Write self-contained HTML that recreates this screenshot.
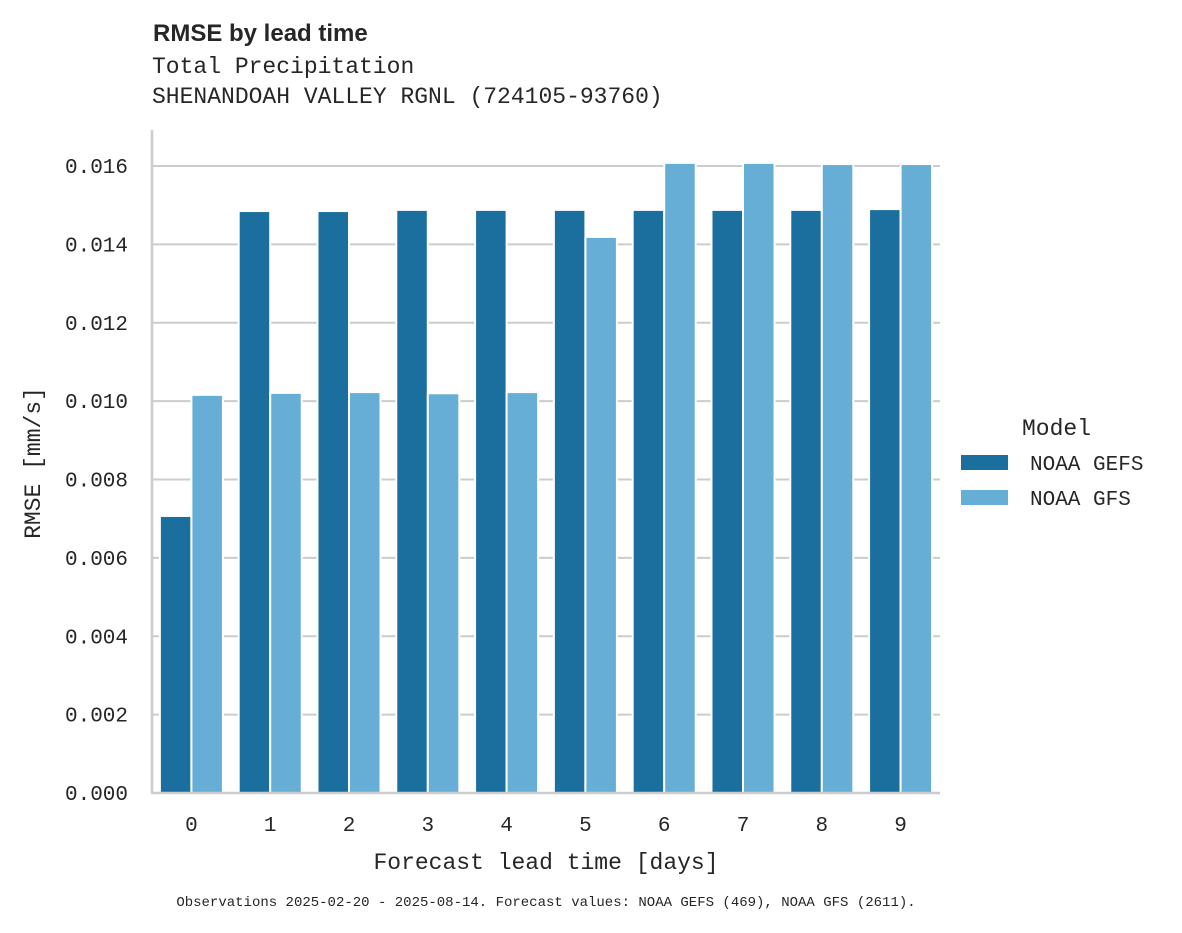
<!DOCTYPE html>
<html><head><meta charset="utf-8"><style>
body{margin:0;background:#fff;}
svg text{fill:#262626;}
.mono{font-family:"Liberation Mono",monospace;}
</style></head><body>
<svg width="1182" height="928" xmlns="http://www.w3.org/2000/svg">
<text x="153" y="41" font-family="Liberation Sans, sans-serif" font-weight="bold" font-size="24">RMSE by lead time</text>
<text x="152" y="73" class="mono" font-size="23">Total Precipitation</text>
<text x="152" y="103" class="mono" font-size="23">SHENANDOAH VALLEY RGNL (724105-93760)</text>
<g id="grid"></g>
<g id="bars"></g>
<g id="axes"></g>
<text x="546" y="869" text-anchor="middle" class="mono" font-size="23">Forecast lead time [days]</text>
<text transform="translate(40,463) rotate(-90)" text-anchor="middle" class="mono" font-size="23">RMSE [mm/s]</text>
<g>
<text x="1022" y="435" class="mono" font-size="23">Model</text>
<rect x="961" y="455" width="47" height="15" fill="#1a6f9e"/>
<text x="1030" y="470" class="mono" font-size="21">NOAA GEFS</text>
<rect x="961" y="490" width="47" height="15" fill="#67aed7"/>
<text x="1030" y="505" class="mono" font-size="21">NOAA GFS</text>
</g>
<text x="546" y="906" text-anchor="middle" class="mono" font-size="14">Observations 2025-02-20 - 2025-08-14. Forecast values: NOAA GEFS (469), NOAA GFS (2611).</text>
</svg>
<script>
const categories=["0","1","2","3","4","5","6","7","8","9"];
const gefsValues=[0.00707,0.01485,0.01485,0.01488,0.01488,0.01488,0.01488,0.01488,0.01488,0.0149];
const gfsValues=[0.01016,0.01021,0.01023,0.0102,0.01023,0.01419,0.01608,0.01608,0.01605,0.01605];
const yTicks=[0,0.002,0.004,0.006,0.008,0.010,0.012,0.014,0.016];
const yTickLabels=["0.000","0.002","0.004","0.006","0.008","0.010","0.012","0.014","0.016"];
const NS="http://www.w3.org/2000/svg";
const L=152,R=940,B=793,T=130;
const y=v=>B-v*(B-166)/0.016;
const band=(R-L)/categories.length;
const x=i=>L+band*i;
function mk(tag,attrs,parent){const e=document.createElementNS(NS,tag);for(const k in attrs)e.setAttribute(k,attrs[k]);parent.appendChild(e);return e;}
const grid=document.getElementById('grid'),bars=document.getElementById('bars'),axes=document.getElementById('axes');
yTicks.forEach((t,i)=>{
 const g=mk('line',{x1:L,x2:R,y1:y(t),y2:y(t),stroke:'#cccccc','stroke-width':2},grid);
 
 
 const tx=mk('text',{x:L-24,y:y(t)+7,'text-anchor':'end','font-size':21,class:'mono'},axes);
 tx.textContent=yTickLabels[i];
 
 
});
const bw=band*0.8/2;
categories.forEach((c,i)=>{
 const x0=x(i)+band*0.1;
 const b1=mk('rect',{x:x0,y:y(gefsValues[i]),width:bw,height:B-y(gefsValues[i]),fill:'#1a6f9e',stroke:'#fff','stroke-width':2},bars);
 
 
 const b2=mk('rect',{x:x0+bw,y:y(gfsValues[i]),width:bw,height:B-y(gfsValues[i]),fill:'#67aed7',stroke:'#fff','stroke-width':2},bars);
 
 
 const tx=mk('text',{x:x(i)+band/2,y:B+38,'text-anchor':'middle','font-size':21,class:'mono'},axes);
 tx.textContent=c;
 
 
});
const ls=mk('line',{x1:L,x2:L,y1:T,y2:B+1,stroke:'#cccccc','stroke-width':2.5},axes);


const bs=mk('line',{x1:L,x2:R,y1:B,y2:B,stroke:'#cccccc','stroke-width':2.5},axes);


</script>
</body></html>
